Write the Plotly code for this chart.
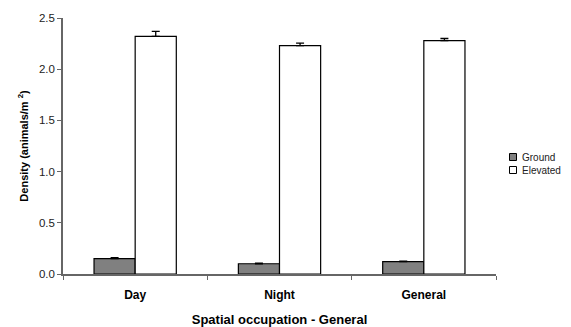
import plotly.graph_objects as go

categories = ["Day", "Night", "General"]
ground = [0.15, 0.10, 0.12]
ground_err = [0.01, 0.005, 0.005]
elevated = [2.32, 2.23, 2.28]
elevated_err = [0.05, 0.025, 0.02]
zeros = [0, 0, 0]
legend_names = ["Ground", "Elevated"]
legend_colors = ["#808080", "#ffffff"]

fig = go.Figure()
fig.add_trace(go.Bar(
    x=categories, y=ground, name="Ground", showlegend=False,
    marker=dict(color="#808080", line=dict(color="#000000", width=1.2)),
    error_y=dict(type="data", array=ground_err, arrayminus=zeros, visible=True,
                 color="#000000", thickness=1.3, width=4),
))
fig.add_trace(go.Bar(
    x=categories, y=elevated, name="Elevated", showlegend=False,
    marker=dict(color="#ffffff", line=dict(color="#000000", width=1.2)),
    error_y=dict(type="data", array=elevated_err, arrayminus=zeros, visible=True,
                 color="#000000", thickness=1.3, width=4),
))

# compact legend like the reference: small square keys + labels
plot_w = 433.0
plot_h = 256.0
key_x_px = 513.0 - 63.0
key_y_px = [274.0 - 157.0, 274.0 - 170.0]
for name, col, ypx in zip(legend_names, legend_colors, key_y_px):
    fig.add_shape(type="rect", xref="paper", yref="paper",
                  x0=(key_x_px - 3.5) / plot_w, x1=(key_x_px + 3.5) / plot_w,
                  y0=(ypx - 3.5) / plot_h, y1=(ypx + 3.5) / plot_h,
                  fillcolor=col, line=dict(color="#000000", width=1))
    fig.add_annotation(text=name, xref="paper", yref="paper",
                       x=(key_x_px + 7) / plot_w, y=ypx / plot_h,
                       xanchor="left", yanchor="middle", showarrow=False,
                       font=dict(size=10, color="#222222"))

fig.update_layout(
    width=563, height=319,
    margin=dict(l=55, r=75, t=10, b=53),
    paper_bgcolor="white", plot_bgcolor="white",
    barmode="group", bargap=0.43, bargroupgap=0,
    font=dict(family="Liberation Sans, Arial, sans-serif", size=11, color="#000000"),
    showlegend=False,
    xaxis=dict(
        automargin=False,
        showline=True, linecolor="#666666", linewidth=1.5,
        ticks="outside", tickson="boundaries", ticklen=4, tickcolor="#666666",
        ticklabelstandoff=9,
        tickfont=dict(size=12, family="Liberation Sans, Arial, sans-serif", weight="bold"),
        title=dict(text="<b>Spatial occupation - General</b>", font=dict(size=13), standoff=14),
        showgrid=False, zeroline=False,
    ),
    yaxis=dict(
        automargin=False,
        range=[0, 2.5], dtick=0.5, tickformat=".1f",
        showline=True, linecolor="#666666", linewidth=1.5,
        ticks="outside", ticklen=4, tickcolor="#666666",
        tickfont=dict(size=11.5, color="#222222"),
        title=dict(text="<b>Density (animals/m <sup>2</sup>)</b>", font=dict(size=11), standoff=8),
        showgrid=False, zeroline=False,
    ),
)

fig.write_html("out.html")
